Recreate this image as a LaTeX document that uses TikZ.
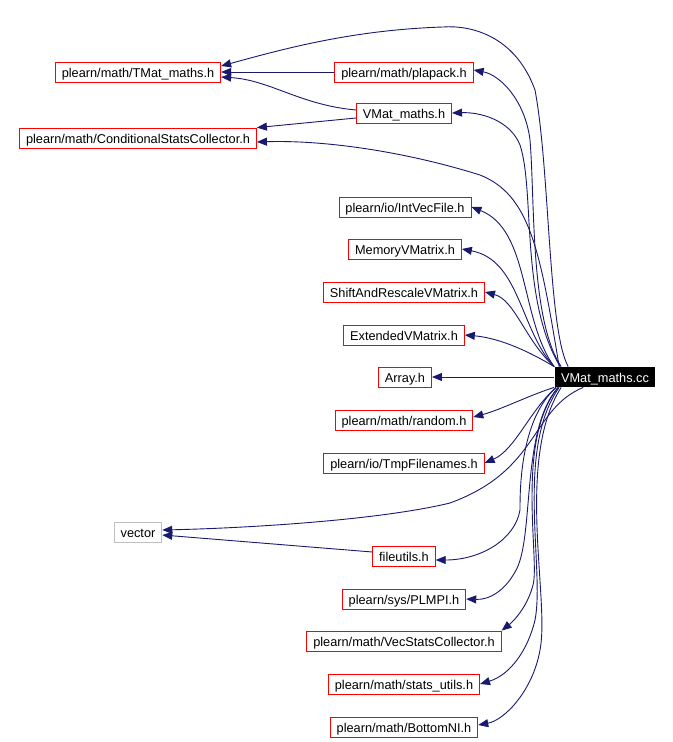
\documentclass[tikz,border=0pt]{standalone}
\usepackage{fontspec}
\setmainfont{Liberation Sans}
\usetikzlibrary{arrows.meta}
\definecolor{edgeblue}{HTML}{191970}

\begin{document}
\begin{tikzpicture}[x=1bp, y=-1bp,
  every node/.style={font=\fontsize{12.8}{14}\selectfont, minimum height=20bp,
    inner xsep=6.5bp, inner ysep=0pt, text height=13bp, text depth=2bp, line width=0.8bp},
  incl/.style={draw=red, fill=white},
  sysincl/.style={draw=gray!50, fill=white},
  srcfile/.style={fill=black, text=white},
  dep/.style={draw=edgeblue, line width=0.9bp, -{Triangle[length=10bp,width=8bp]}}]
\useasboundingbox (0,0) rectangle (673,742);

% The source file
\node[srcfile] (cc) at (605,377) {VMat\_maths.cc};

% Headers on the left
\node[incl] (TMat) at (138,72) {plearn/math/TMat\_maths.h};
\node[incl] (CSC) at (138,138) {plearn/math/ConditionalStatsCollector.h};
\node[sysincl] (vector) at (138,532) {vector};

% Headers in the middle column
\node[incl] (plapack) at (404,72) {plearn/math/plapack.h};
\node[incl] (VMath) at (404,113) {VMat\_maths.h};
\node[incl] (IntVec) at (405,207) {plearn/io/IntVecFile.h};
\node[incl] (MemVM) at (405,249) {MemoryVMatrix.h};
\node[incl] (ShiftVM) at (404,292) {ShiftAndRescaleVMatrix.h};
\node[incl] (ExtVM) at (404,335) {ExtendedVMatrix.h};
\node[incl] (Array) at (405,377) {Array.h};
\node[incl] (random) at (404,420) {plearn/math/random.h};
\node[incl] (TmpFn) at (404,463) {plearn/io/TmpFilenames.h};
\node[incl] (fileutils) at (404,556) {fileutils.h};
\node[incl] (PLMPI) at (404,599) {plearn/sys/PLMPI.h};
\node[incl] (VecStats) at (404,641) {plearn/math/VecStatsCollector.h};
\node[incl] (statsutils) at (404,684) {plearn/math/stats\_utils.h};
\node[incl] (BottomNI) at (404,727) {plearn/math/BottomNI.h};

% Includes between headers
\draw[dep] (plapack.west) -- (TMat.east);
\draw[dep] ([yshift=3bp]VMath.west) .. controls (300,105) and (270,80) .. ([yshift=-5bp]TMat.east);
\draw[dep] ([yshift=-5bp]VMath.west) -- (CSC.north east);
\draw[dep] ([yshift=4bp]fileutils.west) -- ([yshift=-3bp]vector.east);

% Includes of the source file, upper half
\draw[dep] ([xshift=14bp]cc.north west) .. controls (548,330) and (550,170) .. (535,90)
  .. controls (515,35) and (470,25) .. (443,27)
  .. controls (350,30) and (280,50) .. ([yshift=6bp]TMat.east);
\draw[dep] ([xshift=5bp]cc.north west) .. controls (540,250) and (530,195) .. (480,175)
  .. controls (400,150) and (320,140) .. ([yshift=-4bp]CSC.east);
\draw[dep] ([xshift=7bp]cc.north west) .. controls (530,320) and (535,200) .. (530,140)
  .. controls (525,100) and (500,75) .. ([yshift=2bp]plapack.east);
\draw[dep] ([xshift=6bp]cc.north west) .. controls (520,300) and (535,190) .. (520,145)
  .. controls (510,120) and (480,112) .. (VMath.east);
\draw[dep] (cc.north west) .. controls (520,320) and (530,230) .. (IntVec.east);
\draw[dep] (cc.north west) .. controls (520,330) and (520,260) .. (MemVM.east);
\draw[dep] (cc.north west) .. controls (525,340) and (515,300) .. (ShiftVM.east);
\draw[dep] (cc.north west) .. controls (530,352) and (500,338) .. (ExtVM.east);
\draw[dep] (cc.west) -- (Array.east);

% Includes of the source file, lower half
\draw[dep] (cc.south west) .. controls (530,395) and (500,410) .. ([yshift=3bp]random.east);
\draw[dep] ([xshift=2bp]cc.south west) .. controls (530,410) and (515,450) .. (TmpFn.east);
\draw[dep] ([xshift=29bp]cc.south west) .. controls (530,410) and (540,470) .. (450,503)
  .. controls (380,520) and (250,528) .. ([yshift=2bp]vector.east);
\draw[dep] ([xshift=2bp]cc.south west) .. controls (520,420) and (520,490) .. (520,510)
  .. controls (515,540) and (480,560) .. ([yshift=-4bp]fileutils.east);
\draw[dep] ([xshift=4bp]cc.south west) .. controls (520,430) and (535,540) .. (515,572)
  .. controls (505,590) and (490,600) .. (PLMPI.east);
\draw[dep] ([xshift=4bp]cc.south west) .. controls (515,440) and (540,560) .. (533,585)
  .. controls (528,605) and (515,620) .. (VecStats.north east);
\draw[dep] ([xshift=5bp]cc.south west) .. controls (515,450) and (545,570) .. (535,620)
  .. controls (528,650) and (510,675) .. (statsutils.east);
\draw[dep] ([xshift=7bp]cc.south west) .. controls (515,460) and (550,600) .. (540,650)
  .. controls (533,690) and (505,720) .. ([yshift=2bp]BottomNI.east);
\end{tikzpicture}
\end{document}
